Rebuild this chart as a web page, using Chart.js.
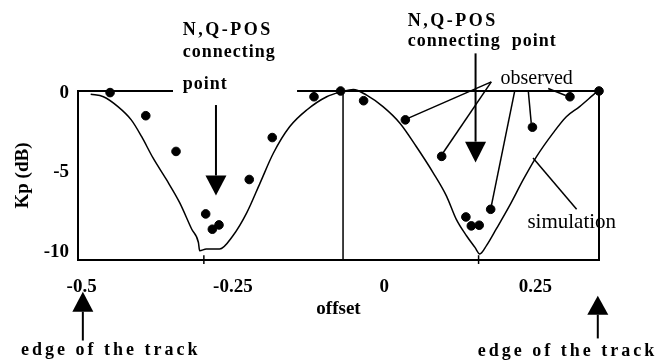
<!DOCTYPE html>
<html>
<head>
<meta charset="utf-8">
<script src="https://cdn.jsdelivr.net/npm/chart.js@4"></script>
<style>
 html, body { margin: 0; padding: 0; background: #fff; }
 #wrap { width: 663px; height: 364px; }
</style>
</head>
<body>
<div id="wrap"><canvas id="kpChart"></canvas></div>
<script>
// simulation curve (offset, Kp dB)
const simOffset = [-0.485, -0.464, -0.44, -0.418, -0.401, -0.382, -0.36, -0.338, -0.318, -0.307, -0.305, -0.294, -0.272, -0.25, -0.227, -0.205, -0.183, -0.156, -0.128, -0.095, -0.07, -0.051, -0.029, -0.002, 0.026, 0.053, 0.081, 0.103, 0.119, 0.136, 0.15, 0.158, 0.169, 0.185, 0.207, 0.23, 0.252, 0.279, 0.301, 0.323, 0.345, 0.356];
const simKp = [-0.1, -0.26, -0.88, -1.71, -2.75, -4.1, -5.45, -6.9, -8.57, -9.4, -9.92, -9.81, -9.81, -8.98, -7.53, -5.66, -3.79, -2.13, -1.09, -0.26, 0.05, 0.2, -0.16, -0.88, -1.92, -3.38, -5.03, -6.49, -7.94, -8.98, -9.71, -10.12, -9.6, -8.57, -7.11, -5.45, -4.0, -2.54, -1.51, -0.88, -0.16, 0.2];

// observed points
const obsOffset = [-0.453, -0.394, -0.344, -0.295, -0.284, -0.273, -0.223, -0.185, -0.116, -0.072, -0.034, 0.035, 0.095, 0.135, 0.144, 0.157, 0.176, 0.245, 0.307, 0.355];
const obsKp = [0, -1.45, -3.69, -7.61, -8.57, -8.3, -5.45, -2.82, -0.26, 0.1, -0.51, -1.71, -4.0, -7.8, -8.36, -8.32, -7.32, -2.17, -0.26, 0.1];

// vertical line between the two tracks
const centerOffset = [-0.068, -0.068];
const centerKp = [0.1, -10.5];

// tick labels
const xTicks = [-0.5, -0.25, 0, 0.25];
const yTicks = [0, -5, -10];

const serif = "'Liberation Serif', 'Times New Roman', serif";

// annotations, in data units
const arrows = [
 { x: -0.278, from: -0.78, base: -5.2, tip: -6.45 },
 { x: 0.151, from: 2.46, base: -3.08, tip: -4.39 },
 { x: -0.498, from: -15.55, base: -13.74, tip: -12.49 },
 { x: 0.353, from: -15.42, base: -13.93, tip: -12.74 }
];
const leaders = [
 [0.177, 0.67, 0.04, -1.6],
 [0.177, 0.67, 0.096, -3.85],
 [0.216, 0.16, 0.177, -7.12],
 [0.238, 0.16, 0.243, -1.9],
 [0.271, 0.26, 0.3, -0.18],
 [0.318, -7.32, 0.246, -4.1],
 [-0.298, -10.2, -0.298, -10.75],
 [0.156, -10.2, 0.156, -10.75]
];
const labels = [
 { t: "N,Q-POS", x: -0.333, y: 3.89, bold: true, ls: 2.5, align: "left" },
 { t: "connecting", x: -0.333, y: 2.52, bold: true, ls: 1, align: "left" },
 { t: "point", x: -0.333, y: 0.53, bold: true, ls: 1, align: "left" },
 { t: "N,Q-POS", x: 0.039, y: 4.45, bold: true, ls: 2.5, align: "left" },
 { t: "connecting  point", x: 0.039, y: 3.22, bold: true, ls: 1, align: "left" },
 { t: "observed", x: 0.252, y: 0.84, bold: false, ls: 0, align: "center", size: 20 },
 { t: "simulation", x: 0.31, y: -8.13, bold: false, ls: 0, align: "center", size: 21 },
 { t: "edge of the track", x: -0.452, y: -16.17, bold: true, ls: 3, align: "center" },
 { t: "edge of the track", x: 0.303, y: -16.23, bold: true, ls: 3, align: "center" }
];

const annotate = {
 id: "annotate",
 afterDraw(chart) {
  const ctx = chart.ctx;
  const sx = chart.scales.x, sy = chart.scales.y;
  const px = v => sx.getPixelForValue(v);
  const py = v => sy.getPixelForValue(v);
  const a = chart.chartArea;
  ctx.save();
  ctx.strokeStyle = "#000";
  ctx.fillStyle = "#000";

  // top line (broken under the left label) and right side of the box
  ctx.lineWidth = 2;
  ctx.beginPath();
  ctx.moveTo(a.left, a.top); ctx.lineTo(px(-0.349), a.top);
  ctx.moveTo(px(-0.144), a.top); ctx.lineTo(a.right, a.top);
  ctx.moveTo(a.right, a.top); ctx.lineTo(a.right, a.bottom);
  ctx.stroke();

  ctx.lineWidth = 1.5;
  leaders.forEach(l => {
   ctx.beginPath();
   ctx.moveTo(px(l[0]), py(l[1]));
   ctx.lineTo(px(l[2]), py(l[3]));
   ctx.stroke();
  });

  arrows.forEach(r => {
   const x = px(r.x);
   ctx.lineWidth = 2;
   ctx.beginPath();
   ctx.moveTo(x, py(r.from));
   ctx.lineTo(x, py(r.base));
   ctx.stroke();
   ctx.beginPath();
   ctx.moveTo(x - 10.5, py(r.base));
   ctx.lineTo(x + 10.5, py(r.base));
   ctx.lineTo(x, py(r.tip));
   ctx.closePath();
   ctx.fill();
  });

  ctx.textBaseline = "middle";
  labels.forEach(l => {
   ctx.font = (l.bold ? "bold 18px " : (l.size || 19) + "px ") + serif;
   ctx.letterSpacing = l.ls + "px";
   ctx.textAlign = l.align;
   ctx.fillText(l.t, px(l.x), py(l.y));
  });
  ctx.restore();
 }
};

new Chart(document.getElementById("kpChart"), {
 type: "scatter",
 data: {
  datasets: [
   {
    label: "observed",
    data: obsOffset.map((x, i) => ({ x: x, y: obsKp[i] })),
    backgroundColor: "#000",
    borderColor: "#000",
    pointRadius: 4.3,
    pointHoverRadius: 4.3,
    clip: false
   },
   {
    label: "simulation",
    data: simOffset.map((x, i) => ({ x: x, y: simKp[i] })),
    showLine: true,
    borderColor: "#000",
    borderWidth: 1.5,
    pointRadius: 0,
    cubicInterpolationMode: "monotone",
    clip: false
   },
   {
    label: "center",
    data: centerOffset.map((x, i) => ({ x: x, y: centerKp[i] })),
    showLine: true,
    borderColor: "#000",
    borderWidth: 1.5,
    pointRadius: 0,
    clip: false
   }
  ]
 },
 options: {
  responsive: true,
  maintainAspectRatio: false,
  animation: false,
  events: [],
  layout: { padding: { top: 91, right: 64, left: 0, bottom: 0 } },
  plugins: { legend: { display: false }, tooltip: { enabled: false } },
  scales: {
   x: {
    type: "linear",
    min: -0.506,
    max: 0.355,
    afterBuildTicks: s => { s.ticks = xTicks.map(v => ({ value: v })); },
    afterFit: s => { s.height = 104; },
    grid: { display: false, drawTicks: false },
    border: { display: true, color: "#000", width: 2 },
    ticks: {
     color: "#000",
     padding: 16,
     maxRotation: 0,
     font: { family: serif, size: 19, weight: "bold" },
     callback: v => String(v)
    },
    title: {
     display: true,
     text: "offset",
     color: "#000",
     padding: { top: 4, bottom: 44 },
     font: { family: serif, size: 19, weight: "bold" }
    }
   },
   y: {
    type: "linear",
    min: -10.5,
    max: 0.1,
    afterBuildTicks: s => { s.ticks = yTicks.map(v => ({ value: v })); },
    afterFit: s => { s.width = 78; },
    grid: { display: false, drawTicks: false },
    border: { display: true, color: "#000", width: 2 },
    ticks: {
     color: "#000",
     padding: 9,
     font: { family: serif, size: 19, weight: "bold" },
     callback: v => String(v)
    },
    title: {
     display: true,
     text: "Kp (dB)",
     color: "#000",
     padding: { top: 12 },
     font: { family: serif, size: 19, weight: "bold" }
    }
   }
  }
 },
 plugins: [annotate]
});
</script>
</body>
</html>
